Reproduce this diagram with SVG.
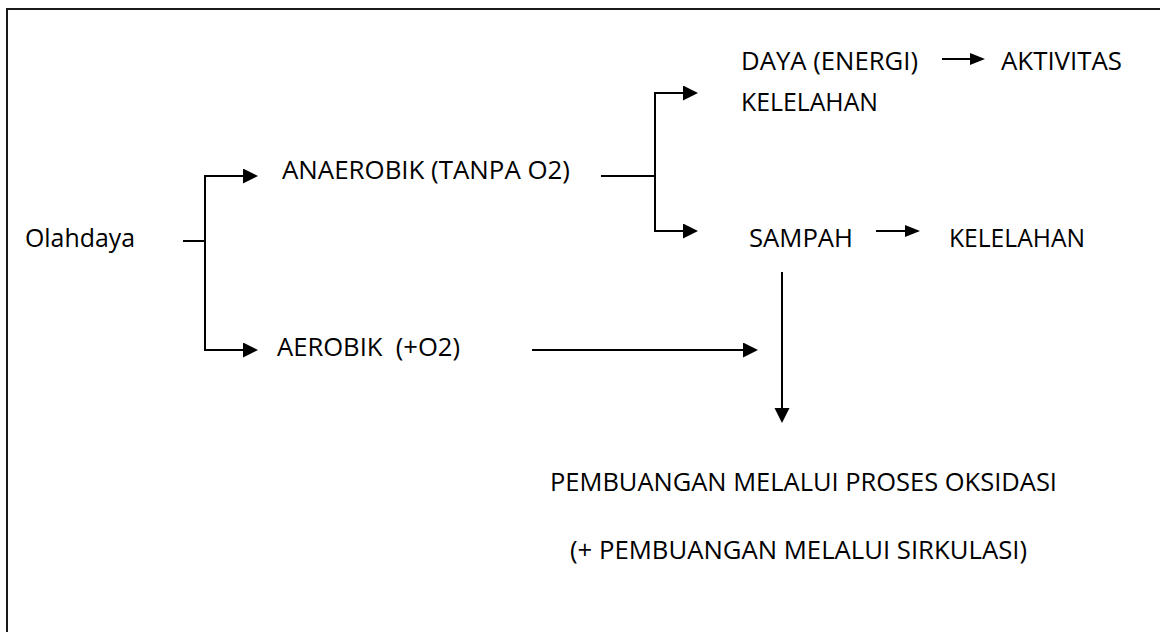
<svg xmlns="http://www.w3.org/2000/svg" width="1160" height="632" viewBox="0 0 1160 632">
<style>
  .lbl { font-family: "Open Sans", "Liberation Sans", sans-serif; font-size: 26px; fill: #000; white-space: pre; }
  .frame { stroke: #1a1a1a; stroke-width: 2; fill: none; }
  .conn { stroke: #000; stroke-width: 2; fill: none; }
  .arr { marker-end: url(#ah); }
  .arrs { marker-end: url(#ahs); }
</style>
<defs>
  <marker id="ah" markerUnits="userSpaceOnUse" markerWidth="16" markerHeight="16" refX="13" refY="7.5" orient="auto" viewBox="0 0 16 16">
    <path d="M0,0 L15,7.5 L0,15 z" fill="#000"/>
  </marker>
  <marker id="ahs" markerUnits="userSpaceOnUse" markerWidth="16" markerHeight="14" refX="13" refY="6" orient="auto" viewBox="0 0 16 14">
    <path d="M0,0 L15,6 L0,12 z" fill="#000"/>
  </marker>
</defs>
<rect width="1160" height="632" fill="#fff"/>
<g id="frame">
  <path class="frame" d="M7,632 L7,9 L1160,9"/>
</g>
<g id="connectors">
  <line class="conn" x1="183" y1="241" x2="205" y2="241"/>
  <line class="conn" x1="205" y1="175" x2="205" y2="351"/>
  <line class="conn arr" x1="204" y1="176" x2="256" y2="176"/>
  <line class="conn arr" x1="204" y1="350" x2="256" y2="350"/>
  <line class="conn" x1="601" y1="176" x2="655" y2="176"/>
  <line class="conn" x1="655" y1="92" x2="655" y2="232"/>
  <line class="conn arr" x1="654" y1="93" x2="696" y2="93"/>
  <line class="conn arr" x1="654" y1="231" x2="696" y2="231"/>
  <line class="conn arrs" x1="942" y1="59" x2="983" y2="59"/>
  <line class="conn arrs" x1="876" y1="231" x2="918" y2="231"/>
  <line class="conn arr" x1="532" y1="350" x2="756" y2="350"/>
  <line class="conn arr" x1="782" y1="272" x2="782" y2="421"/>
</g>
<g id="node-olahdaya"><text class="lbl" x="25" y="247" textLength="110" lengthAdjust="spacingAndGlyphs">Olahdaya</text></g>
<g id="node-anaerobik"><text class="lbl" x="282" y="179" textLength="288" lengthAdjust="spacingAndGlyphs">ANAEROBIK (TANPA O2)</text></g>
<g id="node-aerobik"><text class="lbl" x="277" y="356" textLength="183" lengthAdjust="spacingAndGlyphs">AEROBIK  (+O2)</text></g>
<g id="node-daya"><text class="lbl" x="741" y="70" textLength="177" lengthAdjust="spacingAndGlyphs">DAYA (ENERGI)</text></g>
<g id="node-aktivitas"><text class="lbl" x="1001" y="70" textLength="121" lengthAdjust="spacingAndGlyphs">AKTIVITAS</text></g>
<g id="node-kelelahan1"><text class="lbl" x="741" y="111" textLength="137" lengthAdjust="spacingAndGlyphs">KELELAHAN</text></g>
<g id="node-sampah"><text class="lbl" x="749" y="247" textLength="104" lengthAdjust="spacingAndGlyphs">SAMPAH</text></g>
<g id="node-kelelahan2"><text class="lbl" x="949" y="247" textLength="136" lengthAdjust="spacingAndGlyphs">KELELAHAN</text></g>
<g id="node-pembuangan1"><text class="lbl" x="550" y="491" textLength="507" lengthAdjust="spacingAndGlyphs">PEMBUANGAN MELALUI PROSES OKSIDASI</text></g>
<g id="node-pembuangan2"><text class="lbl" x="570" y="559" textLength="457" lengthAdjust="spacingAndGlyphs">(+ PEMBUANGAN MELALUI SIRKULASI)</text></g>
</svg>
